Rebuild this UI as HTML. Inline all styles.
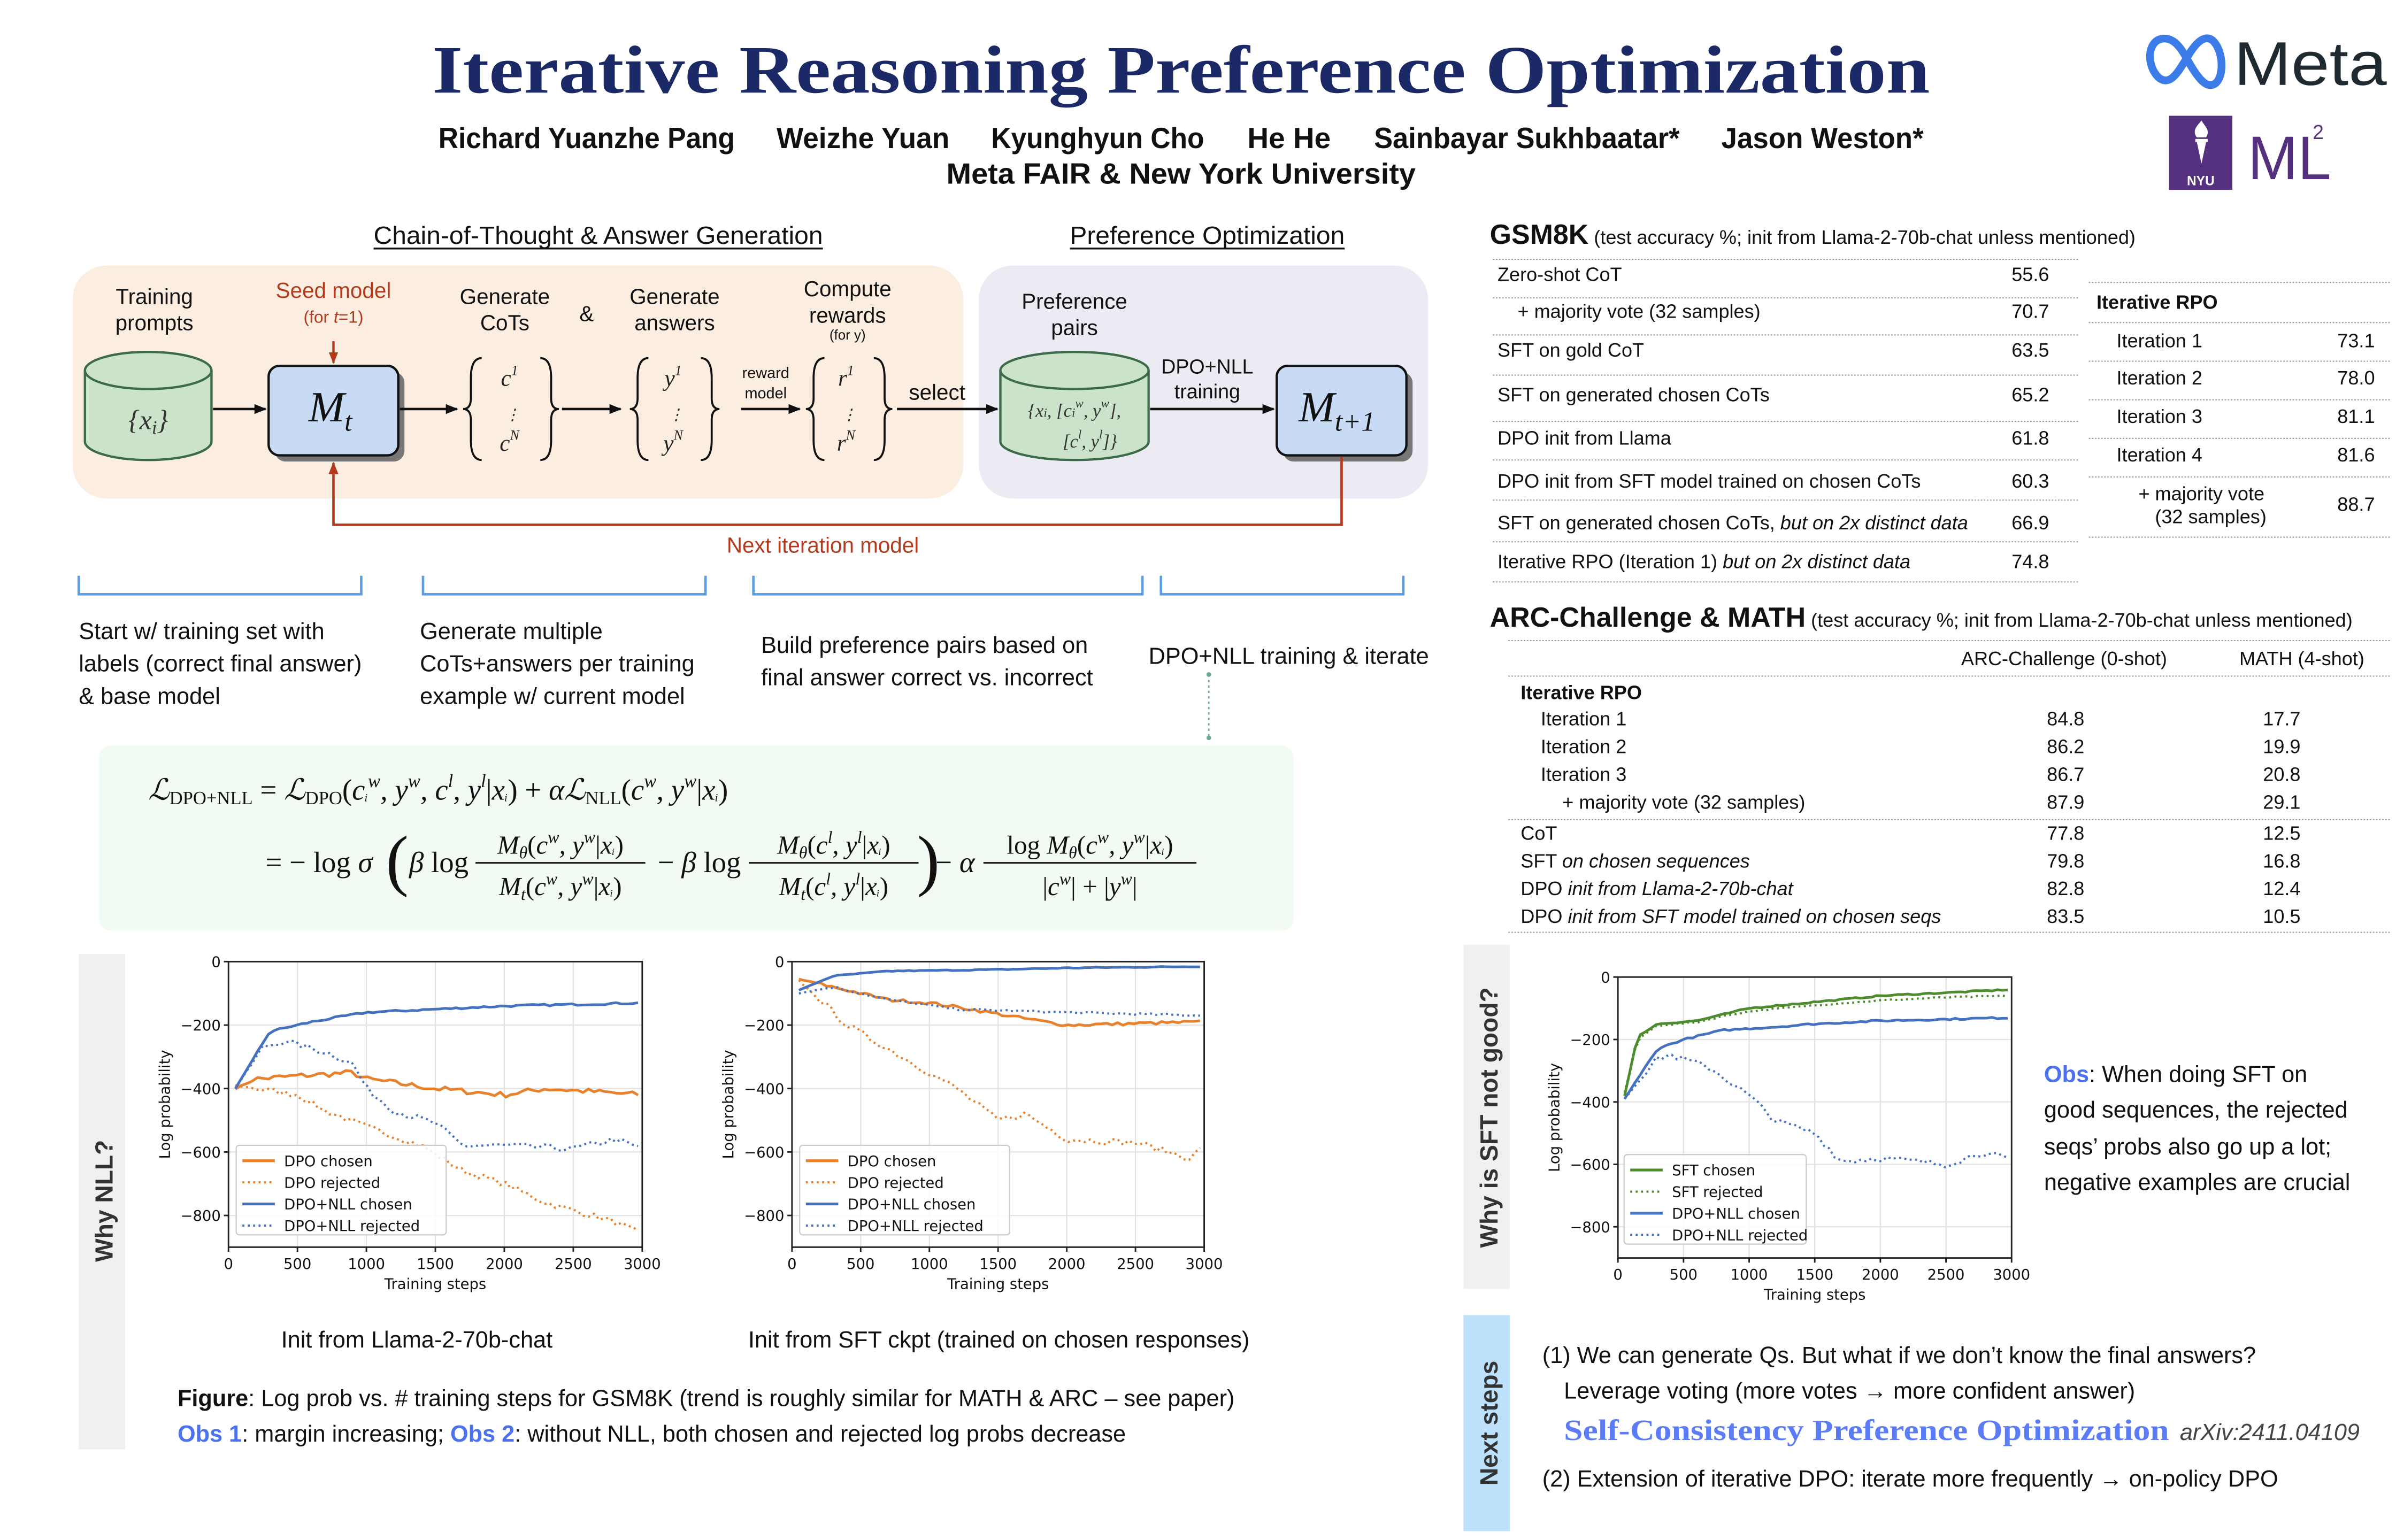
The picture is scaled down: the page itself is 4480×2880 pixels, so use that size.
<!DOCTYPE html>
<html><head><meta charset="utf-8"><style>
html,body{margin:0;padding:0;background:#fff}
svg{display:block}
.s{font-family:"Liberation Sans",Arial,sans-serif}
.m{font-family:"Liberation Serif","DejaVu Serif",serif;font-style:italic}
.r{font-family:"Liberation Serif","DejaVu Serif",serif}
</style></head><body>
<svg id="S" width="4480" height="2880" viewBox="0 0 1552 997.7" xmlns="http://www.w3.org/2000/svg">
<defs>
<marker id="ah" viewBox="0 0 10 10" refX="9" refY="5" markerWidth="5" markerHeight="5" orient="auto"><path d="M0,1 L10,5 L0,9 z" fill="#111"/></marker>
<marker id="ar" viewBox="0 0 10 10" refX="9" refY="5" markerWidth="5" markerHeight="5" orient="auto"><path d="M0,1 L10,5 L0,9 z" fill="#b33a1c"/></marker>
</defs>
<rect width="1552" height="997.7" fill="#fff"/>
<text x="765" y="60" text-anchor="middle" class="r" font-weight="bold" font-size="44" fill="#1b2a66" textLength="970" lengthAdjust="spacingAndGlyphs">Iterative Reasoning Preference Optimization</text>
<g class="s" font-size="19" fill="#111" font-weight="bold">
<text x="284" y="96" textLength="192" lengthAdjust="spacingAndGlyphs">Richard Yuanzhe Pang</text>
<text x="503" y="96" textLength="112" lengthAdjust="spacingAndGlyphs">Weizhe Yuan</text>
<text x="642" y="96" textLength="138" lengthAdjust="spacingAndGlyphs">Kyunghyun Cho</text>
<text x="808" y="96" textLength="54" lengthAdjust="spacingAndGlyphs">He He</text>
<text x="890" y="96" textLength="198" lengthAdjust="spacingAndGlyphs">Sainbayar Sukhbaatar*</text>
<text x="1115" y="96" textLength="131" lengthAdjust="spacingAndGlyphs">Jason Weston*</text>
<text x="613" y="119" textLength="304" lengthAdjust="spacingAndGlyphs">Meta FAIR  &amp;  New York University</text>
</g>
<path d="M1398,50 C1390,42 1391,26 1401,25 C1411,24 1416,38 1420,44 C1425,52 1429,56 1433,55 C1441,53 1441,33 1433,26 C1426,21 1419,33 1415,40 C1410,48 1405,56 1398,50 Z" fill="none" stroke="#3b7ce8" stroke-width="5"/>
<text x="1447" y="55" class="s" font-size="40" fill="#1f2a30" textLength="99" lengthAdjust="spacingAndGlyphs">Meta</text>
<rect x="1405" y="75" width="41" height="48" fill="#54307f"/>
<path d="M1423,89 C1419,84 1425,80 1426,78 C1428,82 1432,84 1429,89 Z" fill="#fff"/>
<rect x="1422" y="90" width="8" height="2" fill="#fff"/><path d="M1423,92 L1429,92 L1426,106 Z" fill="#fff"/>
<text x="1425.5" y="120" text-anchor="middle" class="s" font-weight="bold" font-size="8.5" fill="#fff">NYU</text>
<text x="1456" y="116" class="s" font-size="40" fill="#54307f" textLength="54" lengthAdjust="spacingAndGlyphs">ML</text>
<text x="1498" y="90" class="s" font-size="13" fill="#54307f">2</text>

<g class="s" font-size="16" fill="#111">
<text x="242" y="158" textLength="291" lengthAdjust="spacingAndGlyphs">Chain-of-Thought &amp; Answer Generation</text>
<line x1="242" y1="161" x2="533" y2="161" stroke="#111" stroke-width="1.2"/>
<text x="693" y="158" textLength="178" lengthAdjust="spacingAndGlyphs">Preference Optimization</text>
<line x1="693" y1="161" x2="871" y2="161" stroke="#111" stroke-width="1.2"/>
</g>
<rect x="47" y="172" width="577" height="151" rx="22" fill="#fbeee1"/>
<rect x="634" y="172" width="291" height="151" rx="22" fill="#ecebf4"/>
<g class="s" font-size="14" fill="#111" text-anchor="middle">
<text x="100" y="197">Training</text><text x="100" y="214">prompts</text>
<text x="216" y="193" fill="#b33a1c">Seed model</text>
<text x="216" y="209" font-size="11" fill="#b33a1c">(for <tspan font-style="italic">t</tspan>=1)</text>
<text x="327" y="197">Generate</text><text x="327" y="214">CoTs</text>
<text x="380" y="208">&amp;</text>
<text x="437" y="197">Generate</text><text x="437" y="214">answers</text>
<text x="549" y="192">Compute</text><text x="549" y="209">rewards</text>
<text x="549" y="220" font-size="9">(for y)</text>
<text x="696" y="200">Preference</text><text x="696" y="217">pairs</text>
<text x="496" y="245" font-size="10">reward</text><text x="496" y="258" font-size="10">model</text>
<text x="607" y="259">select</text>
<text x="782" y="242" font-size="13">DPO+NLL</text><text x="782" y="258" font-size="13">training</text>
</g>
<g stroke="#3c6b47" stroke-width="1.5" fill="#cce3cb">
<path d="M55,240 L55,286 A41,12 0 0 0 137,286 L137,240"/>
<ellipse cx="96" cy="240" rx="41" ry="12"/>
<path d="M648,240 L648,286 A48,12 0 0 0 744,286 L744,240"/>
<ellipse cx="696" cy="240" rx="48" ry="12"/>
</g>
<text x="96" y="278" text-anchor="middle" class="m" font-size="18" fill="#333">{x<tspan font-size="12" dy="3">i</tspan><tspan dy="-3">}</tspan></text>
<text x="696" y="270" text-anchor="middle" class="m" font-size="12" fill="#333">{x<tspan font-size="8">i</tspan>, [c<tspan font-size="8">i</tspan><tspan font-size="8" dy="-6">w</tspan><tspan dy="6">, y</tspan><tspan font-size="8" dy="-6">w</tspan><tspan dy="6">],</tspan></text>
<text x="706" y="290" text-anchor="middle" class="m" font-size="12" fill="#333">[c<tspan font-size="8" dy="-6">l</tspan><tspan dy="6">, y</tspan><tspan font-size="8" dy="-6">l</tspan><tspan dy="6">]}</tspan></text>
<rect x="178" y="241" width="84" height="58" rx="7" fill="#777"/>
<rect x="174" y="237" width="84" height="58" rx="7" fill="#c8dbf4" stroke="#111" stroke-width="1.5"/>
<text x="214" y="273" text-anchor="middle" class="m" font-size="28" fill="#111">M<tspan font-size="18" dy="6">t</tspan></text>
<rect x="831" y="241" width="84" height="58" rx="7" fill="#777"/>
<rect x="827" y="237" width="84" height="58" rx="7" fill="#c8dbf4" stroke="#111" stroke-width="1.5"/>
<text x="866" y="273" text-anchor="middle" class="m" font-size="28" fill="#111">M<tspan font-size="18" dy="6">t+1</tspan></text>
<g fill="none" stroke="#111" stroke-width="1.3">
<path d="M312,232 Q305,232 305,245 L305,258 Q305,265 300,265 Q305,265 305,272 L305,285 Q305,298 312,298"/>
<path d="M350,232 Q357,232 357,245 L357,258 Q357,265 362,265 Q357,265 357,272 L357,285 Q357,298 350,298"/>
<path d="M420,232 Q413,232 413,245 L413,258 Q413,265 408,265 Q413,265 413,272 L413,285 Q413,298 420,298"/>
<path d="M454,232 Q461,232 461,245 L461,258 Q461,265 466,265 Q461,265 461,272 L461,285 Q461,298 454,298"/>
<path d="M534,232 Q527,232 527,245 L527,258 Q527,265 522,265 Q527,265 527,272 L527,285 Q527,298 534,298"/>
<path d="M566,232 Q573,232 573,245 L573,258 Q573,265 578,265 Q573,265 573,272 L573,285 Q573,298 566,298"/>
</g>
<g class="m" font-size="15" fill="#222" text-anchor="middle">
<text x="330" y="250">c<tspan font-size="9" dy="-7">1</tspan></text><text x="332" y="272" font-size="10" class="r">⋮</text><text x="330" y="292">c<tspan font-size="9" dy="-7">N</tspan></text>
<text x="436" y="250">y<tspan font-size="9" dy="-7">1</tspan></text><text x="438" y="272" font-size="10" class="r">⋮</text><text x="436" y="292">y<tspan font-size="9" dy="-7">N</tspan></text>
<text x="548" y="250">r<tspan font-size="9" dy="-7">1</tspan></text><text x="550" y="272" font-size="10" class="r">⋮</text><text x="548" y="292">r<tspan font-size="9" dy="-7">N</tspan></text>
</g>
<g stroke="#111" stroke-width="1.6" marker-end="url(#ah)">
<line x1="138" y1="265" x2="172" y2="265"/>
<line x1="259" y1="265" x2="296" y2="265"/>
<line x1="364" y1="265" x2="402" y2="265"/>
<line x1="480" y1="265" x2="518" y2="265"/>
<line x1="581" y1="265" x2="646" y2="265"/>
<line x1="745" y1="265" x2="825" y2="265"/>
</g>
<line x1="216" y1="221" x2="216" y2="235" stroke="#b33a1c" stroke-width="1.5" marker-end="url(#ar)"/>
<path d="M869,296 L869,340 L216,340 L216,300" fill="none" stroke="#b33a1c" stroke-width="1.6" marker-end="url(#ar)"/>
<text x="533" y="358" text-anchor="middle" class="s" font-size="14" fill="#b33a1c">Next iteration model</text>
<g fill="none" stroke="#5b9ee6" stroke-width="1.6">
<path d="M51,373 L51,385 L234,385 L234,373"/><path d="M274,373 L274,385 L457,385 L457,373"/>
<path d="M488,373 L488,385 L740,385 L740,373"/><path d="M752,373 L752,385 L909,385 L909,373"/>
</g>
<g class="s" font-size="15" fill="#111">
<text x="51" y="414">Start w/ training set with</text><text x="51" y="435">labels (correct final answer)</text><text x="51" y="456">&amp; base model</text>
<text x="272" y="414">Generate multiple</text><text x="272" y="435">CoTs+answers per training</text><text x="272" y="456">example w/ current model</text>
<text x="493" y="423">Build preference pairs based on</text><text x="493" y="444">final answer correct vs. incorrect</text>
<text x="744" y="430">DPO+NLL training &amp; iterate</text>
</g>
<line x1="783" y1="437" x2="783" y2="478" stroke="#6aa89a" stroke-width="1" stroke-dasharray="1.5 2"/>
<circle cx="783" cy="437" r="1.5" fill="#6aa89a"/><circle cx="783" cy="478" r="1.5" fill="#6aa89a"/>
<rect x="64" y="483" width="774" height="120" rx="8" fill="#f1fbf4"/>
<g class="m" font-size="19" fill="#111">
<text x="96" y="518">ℒ<tspan font-size="12" class="r" font-style="normal" dy="3">DPO+NLL</tspan><tspan dy="-3" font-style="normal"> = </tspan>ℒ<tspan font-size="12" font-style="normal" dy="3">DPO</tspan><tspan dy="-3" font-style="normal">(</tspan>c<tspan font-size="12">ᵢ</tspan><tspan font-size="12" dy="-8">w</tspan><tspan dy="8">, y</tspan><tspan font-size="12" dy="-8">w</tspan><tspan dy="8">, c</tspan><tspan font-size="12" dy="-8">l</tspan><tspan dy="8">, y</tspan><tspan font-size="12" dy="-8">l</tspan><tspan dy="8" font-style="normal">|</tspan>x<tspan font-size="12">ᵢ</tspan><tspan font-style="normal">) + </tspan>αℒ<tspan font-size="12" font-style="normal" dy="3">NLL</tspan><tspan dy="-3" font-style="normal">(</tspan>c<tspan font-size="12" dy="-8">w</tspan><tspan dy="8">, y</tspan><tspan font-size="12" dy="-8">w</tspan><tspan dy="8" font-style="normal">|</tspan>x<tspan font-size="12">ᵢ</tspan><tspan font-style="normal">)</tspan></text>
<text x="172" y="565"><tspan font-style="normal">= − log </tspan>σ</text>
<text x="250" y="572" font-size="44" font-style="normal" class="r">(</text>
<text x="265" y="565">β<tspan font-style="normal"> log</tspan></text>
<text x="363" y="553" text-anchor="middle" font-size="17">M<tspan font-size="11" dy="3">θ</tspan><tspan dy="-3" font-style="normal">(</tspan>c<tspan font-size="11" dy="-7">w</tspan><tspan dy="7">, y</tspan><tspan font-size="11" dy="-7">w</tspan><tspan dy="7" font-style="normal">|</tspan>x<tspan font-size="11">ᵢ</tspan><tspan font-style="normal">)</tspan></text>
<line x1="308" y1="559" x2="418" y2="559" stroke="#111" stroke-width="1"/>
<text x="363" y="580" text-anchor="middle" font-size="17">M<tspan font-size="11" dy="3">t</tspan><tspan dy="-3" font-style="normal">(</tspan>c<tspan font-size="11" dy="-7">w</tspan><tspan dy="7">, y</tspan><tspan font-size="11" dy="-7">w</tspan><tspan dy="7" font-style="normal">|</tspan>x<tspan font-size="11">ᵢ</tspan><tspan font-style="normal">)</tspan></text>
<text x="426" y="565"><tspan font-style="normal">− </tspan>β<tspan font-style="normal"> log</tspan></text>
<text x="540" y="553" text-anchor="middle" font-size="17">M<tspan font-size="11" dy="3">θ</tspan><tspan dy="-3" font-style="normal">(</tspan>c<tspan font-size="11" dy="-7">l</tspan><tspan dy="7">, y</tspan><tspan font-size="11" dy="-7">l</tspan><tspan dy="7" font-style="normal">|</tspan>x<tspan font-size="11">ᵢ</tspan><tspan font-style="normal">)</tspan></text>
<line x1="485" y1="559" x2="595" y2="559" stroke="#111" stroke-width="1"/>
<text x="540" y="580" text-anchor="middle" font-size="17">M<tspan font-size="11" dy="3">t</tspan><tspan dy="-3" font-style="normal">(</tspan>c<tspan font-size="11" dy="-7">l</tspan><tspan dy="7">, y</tspan><tspan font-size="11" dy="-7">l</tspan><tspan dy="7" font-style="normal">|</tspan>x<tspan font-size="11">ᵢ</tspan><tspan font-style="normal">)</tspan></text>
<text x="594" y="572" font-size="44" font-style="normal" class="r">)</text>
<text x="606" y="565"><tspan font-style="normal">− </tspan>α</text>
<text x="706" y="553" text-anchor="middle" font-size="17"><tspan font-style="normal">log </tspan>M<tspan font-size="11" dy="3">θ</tspan><tspan dy="-3" font-style="normal">(</tspan>c<tspan font-size="11" dy="-7">w</tspan><tspan dy="7">, y</tspan><tspan font-size="11" dy="-7">w</tspan><tspan dy="7" font-style="normal">|</tspan>x<tspan font-size="11">ᵢ</tspan><tspan font-style="normal">)</tspan></text>
<line x1="637" y1="559" x2="775" y2="559" stroke="#111" stroke-width="1"/>
<text x="706" y="580" text-anchor="middle" font-size="17"><tspan font-style="normal">|</tspan>c<tspan font-size="11" dy="-7">w</tspan><tspan dy="7" font-style="normal">| + |</tspan>y<tspan font-size="11" dy="-7">w</tspan><tspan dy="7" font-style="normal">|</tspan></text>
</g>
<rect x="51" y="618" width="30" height="321" fill="#f0f0f0"/>
<text transform="translate(73,778) rotate(-90)" text-anchor="middle" class="s" font-weight="bold" font-size="16" fill="#333">Why NLL?</text>
<rect x="948" y="612" width="30" height="223" fill="#f0f0f0"/>
<text transform="translate(970,724) rotate(-90)" text-anchor="middle" class="s" font-weight="bold" font-size="16" fill="#333">Why is SFT not good?</text>
<rect x="948" y="852" width="30" height="140" fill="#bde1fb"/>
<text transform="translate(970,922) rotate(-90)" text-anchor="middle" class="s" font-weight="bold" font-size="16" fill="#333">Next steps</text>
<g id="charts"></g>
<g class="s" font-size="15" fill="#111">
<text x="270" y="873" text-anchor="middle">Init from Llama-2-70b-chat</text>
<text x="647" y="873" text-anchor="middle">Init from SFT ckpt (trained on chosen responses)</text>
<text x="115" y="911"><tspan font-weight="bold">Figure</tspan>: Log prob vs. # training steps for GSM8K (trend is roughly similar for MATH &amp; ARC – see paper)</text>
<text x="115" y="934"><tspan font-weight="bold" fill="#4a72f0">Obs 1</tspan>: margin increasing; <tspan font-weight="bold" fill="#4a72f0">Obs 2</tspan>: without NLL, both chosen and rejected log probs decrease</text>
<text x="1324" y="701"><tspan font-weight="bold" fill="#4a72f0">Obs</tspan>: When doing SFT on</text>
<text x="1324" y="724">good sequences, the rejected</text>
<text x="1324" y="748">seqs’ probs also go up a lot;</text>
<text x="1324" y="771">negative examples are crucial</text>
<text x="999" y="883">(1) We can generate Qs. But what if we don’t know the final answers?</text>
<text x="1013" y="906">Leverage voting (more votes → more confident answer)</text>
<text x="999" y="963">(2) Extension of iterative DPO: iterate more frequently → on-policy DPO</text>
</g>
<text x="1013" y="933" class="r" font-weight="bold" font-size="19" fill="#5b7cf5" textLength="392" lengthAdjust="spacingAndGlyphs">Self-Consistency Preference Optimization</text>
<text x="1412" y="933" class="s" font-style="italic" font-size="15" fill="#444">arXiv:2411.04109</text>
<g class="s" fill="#111" font-size="12.5">
<text x="965" y="158"><tspan font-weight="bold" font-size="18">GSM8K</tspan> <tspan font-size="12.5">(test accuracy %; init from Llama-2-70b-chat unless mentioned)</tspan></text>
<text x="970" y="182">Zero-shot CoT</text><text x="1303" y="182">55.6</text>
<text x="983" y="206">+ majority vote (32 samples)</text><text x="1303" y="206">70.7</text>
<text x="970" y="231">SFT on gold CoT</text><text x="1303" y="231">63.5</text>
<text x="970" y="260">SFT on generated chosen CoTs</text><text x="1303" y="260">65.2</text>
<text x="970" y="288">DPO init from Llama</text><text x="1303" y="288">61.8</text>
<text x="970" y="316">DPO init from SFT model trained on chosen CoTs</text><text x="1303" y="316">60.3</text>
<text x="970" y="343">SFT on generated chosen CoTs, <tspan font-style="italic">but on 2x distinct data</tspan></text><text x="1303" y="343">66.9</text>
<text x="970" y="368">Iterative RPO (Iteration 1) <tspan font-style="italic">but on 2x distinct data</tspan></text><text x="1303" y="368">74.8</text>
<text x="1358" y="200" font-weight="bold">Iterative RPO</text>
<text x="1371" y="225">Iteration 1</text><text x="1514" y="225">73.1</text>
<text x="1371" y="249">Iteration 2</text><text x="1514" y="249">78.0</text>
<text x="1371" y="274">Iteration 3</text><text x="1514" y="274">81.1</text>
<text x="1371" y="299">Iteration 4</text><text x="1514" y="299">81.6</text>
<text x="1426" y="324" text-anchor="middle">+ majority vote</text><text x="1432" y="339" text-anchor="middle">(32 samples)</text><text x="1514" y="331">88.7</text>
<text x="965" y="406"><tspan font-weight="bold" font-size="18">ARC-Challenge &amp; MATH</tspan> <tspan font-size="12.5">(test accuracy %; init from Llama-2-70b-chat unless mentioned)</tspan></text>
<text x="1337" y="431" text-anchor="middle">ARC-Challenge (0-shot)</text><text x="1491" y="431" text-anchor="middle">MATH (4-shot)</text>
<text x="985" y="453" font-weight="bold">Iterative RPO</text>
<text x="998" y="470">Iteration 1</text><text x="998" y="488">Iteration 2</text><text x="998" y="506">Iteration 3</text><text x="1012" y="524">+ majority vote (32 samples)</text>
<text x="985" y="544">CoT</text><text x="985" y="562">SFT <tspan font-style="italic">on chosen sequences</tspan></text>
<text x="985" y="580">DPO <tspan font-style="italic">init from Llama-2-70b-chat</tspan></text>
<text x="985" y="598">DPO <tspan font-style="italic">init from SFT model trained on chosen seqs</tspan></text>
<g text-anchor="middle">
<text x="1338" y="470">84.8</text><text x="1338" y="488">86.2</text><text x="1338" y="506">86.7</text><text x="1338" y="524">87.9</text>
<text x="1338" y="544">77.8</text><text x="1338" y="562">79.8</text><text x="1338" y="580">82.8</text><text x="1338" y="598">83.5</text>
<text x="1478" y="470">17.7</text><text x="1478" y="488">19.9</text><text x="1478" y="506">20.8</text><text x="1478" y="524">29.1</text>
<text x="1478" y="544">12.5</text><text x="1478" y="562">16.8</text><text x="1478" y="580">12.4</text><text x="1478" y="598">10.5</text>
</g>
</g>
<g stroke="#999" stroke-width="0.7" stroke-dasharray="1 1">
<line x1="967" y1="168" x2="1347" y2="168"/><line x1="967" y1="193" x2="1347" y2="193"/><line x1="967" y1="217" x2="1347" y2="217"/>
<line x1="967" y1="243" x2="1347" y2="243"/><line x1="967" y1="273" x2="1347" y2="273"/><line x1="967" y1="298" x2="1347" y2="298"/>
<line x1="967" y1="324" x2="1347" y2="324"/><line x1="967" y1="351" x2="1347" y2="351"/><line x1="967" y1="377" x2="1347" y2="377"/>
<line x1="1353" y1="183" x2="1548" y2="183"/><line x1="1353" y1="209" x2="1548" y2="209"/><line x1="1353" y1="234" x2="1548" y2="234"/>
<line x1="1353" y1="259" x2="1548" y2="259"/><line x1="1353" y1="284" x2="1548" y2="284"/><line x1="1353" y1="309" x2="1548" y2="309"/><line x1="1353" y1="348" x2="1548" y2="348"/>
<line x1="977" y1="415" x2="1548" y2="415"/><line x1="977" y1="438" x2="1548" y2="438"/><line x1="977" y1="531" x2="1548" y2="531"/><line x1="977" y1="604" x2="1548" y2="604"/>
</g>
</svg>
<script>
(function(){
var NS="http://www.w3.org/2000/svg",G=document.getElementById("charts");
function el(t,a,txt){var e=document.createElementNS(NS,t);for(var k in a)e.setAttribute(k,a[k]);if(txt!=null)e.textContent=txt;G.appendChild(e);return e;}
var seed=7;function rnd(){seed=(seed*16807)%2147483647;return seed/2147483647-0.5;}
var OR="#e8812c",BL="#4472c0",GR="#4d8c2c";
function chart(x0,y0,w,h,ylx,series,legend,lx,ly){
 var X=function(s){return x0+s/3000*w},Y=function(v){return y0-v/900*h};
 [500,1000,1500,2000,2500].forEach(function(s){el("line",{x1:X(s),y1:y0,x2:X(s),y2:y0+h,stroke:"#e3e3e3","stroke-width":0.8})});
 [-200,-400,-600,-800].forEach(function(v){el("line",{x1:x0,y1:Y(v),x2:x0+w,y2:Y(v),stroke:"#e3e3e3","stroke-width":0.8})});
 series.forEach(function(S){
  var p=S.pts,pts=[];
  for(var s=50;s<=3000;s+=40){var i=0;while(i<p.length-2&&p[i+1][0]<s)i++;var a=p[i],b=p[i+1];var t=(s-a[0])/(b[0]-a[0]);t=Math.max(0,Math.min(1,t));var v=a[1]+(b[1]-a[1])*t+rnd()*S.n*(s<200?0.2:1);pts.push(X(s).toFixed(1)+","+Y(v).toFixed(1));}
  var at={points:pts.join(" "),fill:"none",stroke:S.c,"stroke-width":S.d?1.4:1.7};if(S.d)at["stroke-dasharray"]="1.3 2.2";el("polyline",at);
 });
 el("rect",{x:x0,y:y0,width:w,height:h,fill:"none",stroke:"#222","stroke-width":1});
 var f={"font-family":"DejaVu Sans, Liberation Sans, sans-serif","font-size":9.5,fill:"#111"};
 [0,-200,-400,-600,-800].forEach(function(v){el("line",{x1:x0-3,y1:Y(v),x2:x0,y2:Y(v),stroke:"#222"});el("text",Object.assign({x:x0-5,y:Y(v)+3.5,"text-anchor":"end"},f),v==0?"0":"−"+(-v))});
 [0,500,1000,1500,2000,2500,3000].forEach(function(s){el("line",{x1:X(s),y1:y0+h,x2:X(s),y2:y0+h+3,stroke:"#222"});el("text",Object.assign({x:X(s),y:y0+h+14,"text-anchor":"middle"},f),String(s))});
 el("text",Object.assign({x:x0+w/2,y:y0+h+27,"text-anchor":"middle"},f),"Training steps");
 el("text",Object.assign({transform:"translate("+ylx+","+(y0+h/2)+") rotate(-90)","text-anchor":"middle"},f),"Log probability");
 el("rect",{x:lx,y:ly,width:legend.w,height:58,fill:"#fff","fill-opacity":0.85,stroke:"#ccc","stroke-width":0.8,rx:2});
 legend.items.forEach(function(it,i){var yy=ly+10+i*14;var at={x1:lx+4,y1:yy,x2:lx+25,y2:yy,stroke:it[1],"stroke-width":it[2]?1.4:1.8};if(it[2])at["stroke-dasharray"]="1.3 2.2";el("line",at);el("text",Object.assign({x:lx+31,y:yy+3.5},f),it[0]);});
}
var L1={w:136,items:[["DPO chosen",OR,0],["DPO rejected",OR,1],["DPO+NLL chosen",BL,0],["DPO+NLL rejected",BL,1]]};
chart(148,623,268,185,110,[
 {c:OR,n:18,pts:[[50,-400],[200,-370],[500,-360],[900,-350],[1000,-370],[1500,-400],[2000,-420],[2300,-400],[3000,-420]]},
 {c:OR,n:18,d:1,pts:[[50,-390],[500,-420],[700,-470],[1000,-520],[1400,-580],[1700,-660],[2000,-700],[2300,-760],[2800,-820],[3000,-860]]},
 {c:BL,n:6,pts:[[50,-400],[300,-220],[600,-190],[1000,-160],[1500,-150],[2000,-140],[2500,-135],[3000,-130]]},
 {c:BL,n:20,d:1,pts:[[50,-400],[250,-270],[400,-250],[700,-285],[900,-320],[1000,-400],[1200,-470],[1500,-510],[1700,-580],[2000,-580],[2500,-590],[2800,-560],[3000,-590]]}
],L1,153,742);
chart(513,623,267,185,475,[
 {c:OR,n:10,pts:[[50,-55],[300,-80],[700,-120],[1000,-130],[1300,-150],[1700,-180],[2000,-200],[2500,-195],[3000,-190]]},
 {c:OR,n:20,d:1,pts:[[50,-60],[200,-120],[400,-200],[800,-300],[1200,-400],[1500,-500],[1700,-480],[2000,-560],[2500,-570],[2900,-620],[3000,-580]]},
 {c:BL,n:3,pts:[[50,-90],[300,-45],[700,-30],[1500,-25],[2000,-20],[3000,-15]]},
 {c:BL,n:6,d:1,pts:[[50,-100],[300,-80],[700,-120],[1200,-150],[2000,-160],[3000,-170]]}
],L1,518,742);
chart(1048,633,255,182,1010,[
 {c:GR,n:4,pts:[[50,-380],[150,-190],[300,-150],[600,-140],[800,-120],[1000,-100],[1500,-80],[2000,-60],[2500,-50],[3000,-40]]},
 {c:GR,n:4,d:1,pts:[[50,-370],[150,-200],[300,-155],[600,-145],[800,-125],[1000,-110],[1500,-90],[2000,-75],[2500,-65],[3000,-60]]},
 {c:BL,n:5,pts:[[50,-390],[300,-230],[500,-200],[800,-170],[1200,-160],[1500,-150],[2000,-140],[2500,-135],[3000,-130]]},
 {c:BL,n:20,d:1,pts:[[50,-390],[300,-260],[400,-250],[700,-290],[1000,-380],[1200,-460],[1500,-500],[1700,-590],[2000,-580],[2500,-600],[2800,-560],[3000,-590]]}
],{w:118,items:[["SFT chosen",GR,0],["SFT rejected",GR,1],["DPO+NLL chosen",BL,0],["DPO+NLL rejected",BL,1]]},1052,748);
})();
</script>
</body></html>
